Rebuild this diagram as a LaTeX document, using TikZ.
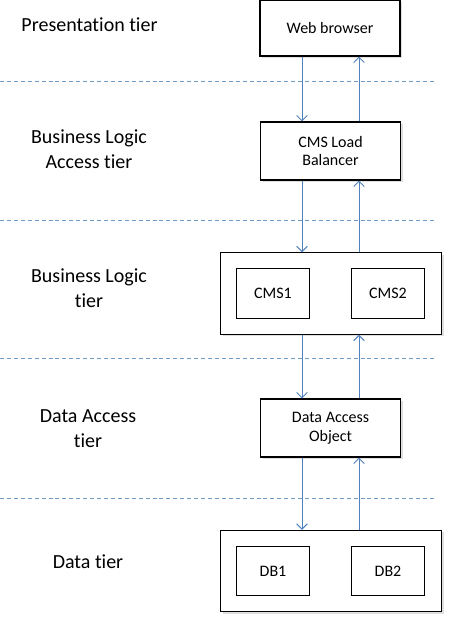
\documentclass[tikz,border=0pt]{standalone}
\usepackage{fontspec}
\setmainfont{Carlito}[Ligatures=NoCommon]
\usetikzlibrary{arrows.meta,shadows}
\definecolor{flowblue}{RGB}{79,129,189}
\definecolor{sepblue}{RGB}{110,155,200}
\tikzset{
  tier/.style={font=\fontsize{15}{18.75}\selectfont, align=center, inner sep=0pt},
  box/.style={draw, fill=white, line width=0.8pt, minimum width=105pt, minimum height=43.5pt,
    align=center, font=\fontsize{12}{14}\selectfont,
    drop shadow={opacity=0.25, shadow xshift=1.5pt, shadow yshift=-1.5pt}},
  group/.style={box, minimum width=165.75pt, minimum height=61pt},
  inner/.style={draw, fill=white, line width=0.8pt, minimum width=55pt, minimum height=37pt,
    font=\fontsize{12}{14}\selectfont},
  flow/.style={flowblue, line width=0.75pt, -{Straight Barb[length=4pt,width=8pt]}},
  sep/.style={sepblue, line width=0.6pt, dash pattern=on 3pt off 2.2pt}
}
\begin{document}
\begin{tikzpicture}[x=0.75pt, y=-0.75pt]
  \useasboundingbox (0,0) rectangle (454,621);
  % tier separators
  \foreach \ypos in {81,220,358,498}
    \draw[sep] (0,\ypos) -- (435,\ypos);
  % tier labels
  \node[tier] (lpres) at (89.5,25) {Presentation tier};
  \node[tier] (lbla) at (89,149) {Business Logic\\Access tier};
  \node[tier] (lbl) at (89,288) {Business Logic\\tier};
  \node[tier] (lda) at (88,429) {Data Access\\tier};
  \node[tier] (ldt) at (88,562) {Data tier};
  % boxes
  \node[box, minimum height=42pt] (web) at (330,28) {Web browser};
  \node[box] (lb) at (330.5,151) {CMS Load\\Balancer};
  \node[group] (cms) at (331,293.5) {};
  \node[inner] (cms1) at (273,293.5) {CMS1};
  \node[inner] (cms2) at (388,293.5) {CMS2};
  \node[box] (dao) at (330.5,428) {Data Access\\Object};
  \node[group] (db) at (331,571) {};
  \node[inner] (db1) at (273,571) {DB1};
  \node[inner] (db2) at (388,571) {DB2};
  % request and response lines
  \coordinate (dn) at (302,0);
  \coordinate (up) at (359,0);
  \draw[flow] (web.south -| dn) -- (lb.north -| dn);
  \draw[flow] (lb.north -| up) -- (web.south -| up);
  \draw[flow] (lb.south -| dn) -- (cms.north -| dn);
  \draw[flow] (cms.north -| up) -- (lb.south -| up);
  \draw[flow] (cms.south -| dn) -- (dao.north -| dn);
  \draw[flow] (dao.north -| up) -- (cms.south -| up);
  \draw[flow] (dao.south -| dn) -- (db.north -| dn);
  \draw[flow] (db.north -| up) -- (dao.south -| up);
\end{tikzpicture}
\end{document}
